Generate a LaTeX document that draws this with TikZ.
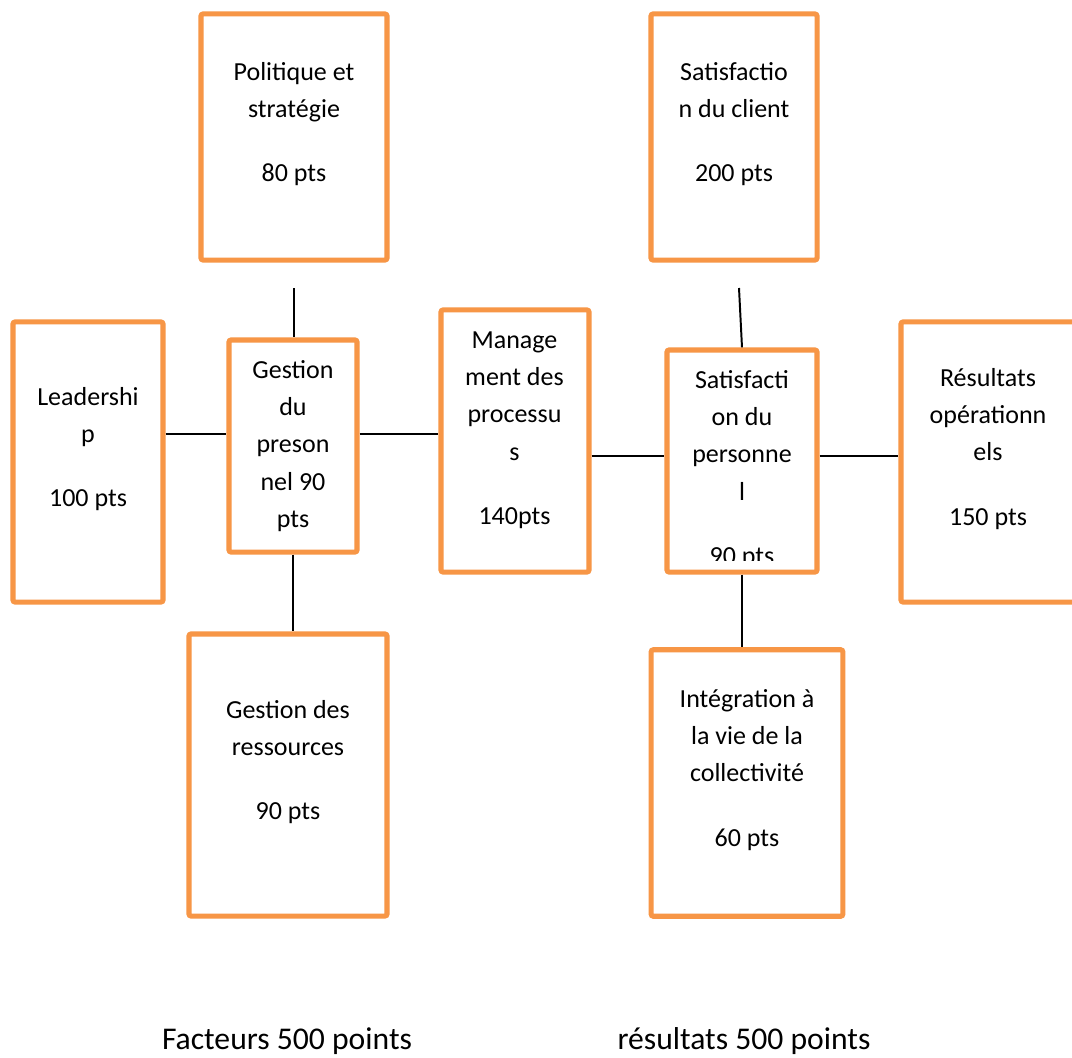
\documentclass[tikz,border=0pt]{standalone}
\usepackage{fontspec}
\setmainfont{Carlito}
\definecolor{boxorange}{RGB}{247,150,70}
\newcommand{\boxfont}{\fontsize{18.5}{26.5}\selectfont}
\newcommand{\footfont}{\fontsize{22.5}{27}\selectfont}

\begin{document}
\begin{tikzpicture}[x=0.025cm, y=-0.025cm,
    box/.style={draw=boxorange, line width=3.6pt, rounded corners=1.5pt, inner sep=0pt},
    boxtext/.style={font=\boxfont, align=center, anchor=north, inner sep=0pt},
    foot/.style={font=\footfont, anchor=base, inner sep=0pt},
    link/.style={black, line width=1.4pt}]
    \clip (0,0) rectangle (1072,1058);
    \fill[white] (0,0) rectangle (1072,1058);

    \node[box, minimum width=4.65cm, minimum height=6.15cm] (pol) at (294,137) {};
    \node[box, minimum width=4.15cm, minimum height=6.15cm] (cli) at (734,137) {};
    \node[box, minimum width=3.75cm, minimum height=7cm] (lead) at (88,462) {};
    \node[box, minimum width=3.2cm, minimum height=5.3cm] (gper) at (293,446) {};
    \node[box, minimum width=3.7cm, minimum height=6.55cm] (mgt) at (515,441) {};
    \node[box, minimum width=3.75cm, minimum height=5.55cm] (sper) at (742,461) {};
    \node[box, minimum width=4.375cm, minimum height=7cm] (res) at (988.5,462) {};
    \node[box, minimum width=4.95cm, minimum height=7.05cm] (ress) at (288,775) {};
    \node[box, minimum width=4.79cm, minimum height=6.66cm] (integ) at (747,783) {};

    \node[boxtext] (poltxt) at (294,54) {\strut Politique et\\stratégie\\[19.2pt]80 pts};
    \node[boxtext] (clitxt) at (734,54) {\strut Satisfactio\\n du client\\[19.2pt]200 pts};
    \node[boxtext] (leadtxt) at (88,379) {\strut Leadershi\\p\\[19.2pt]100 pts};
    \node[boxtext] (gpertxt) at (293,352) {\strut Gestion\\du\\preson\\nel 90\\pts};
    \node[boxtext] (mgttxt) at (514.5,322) {\strut Manage\\ment des\\processu\\s\\[19.2pt]140pts};
    \begin{scope}
        \clip (667,350) rectangle (817,560);
        \node[boxtext] (spertxt) at (742,362) {\strut Satisfacti\\on du\\personne\\l\\[19.2pt]90 pts};
    \end{scope}
    \node[boxtext] (restxt) at (988,360) {\strut Résultats\\opérationn\\els\\[19.2pt]150 pts};
    \node[boxtext] (resstxt) at (288,692) {\strut Gestion des\\ressources\\[19.2pt]90 pts};
    \node[boxtext] (integtxt) at (747,681) {\strut Intégration à\\la vie de la\\collectivité\\[19.2pt]60 pts};

    \coordinate (poldown) at (294,288);
    \coordinate (clidown) at (739,288);
    \draw[link] (poldown) -- (poldown |- gper.north);
    \draw[link] (lead.east |- 0,434) -- (gper.west |- 0,434);
    \draw[link] (gper.east |- 0,434) -- (mgt.west |- 0,434);
    \draw[link] (mgt.east |- 0,456) -- (sper.west |- 0,456);
    \draw[link] (sper.east |- 0,456) -- (res.west |- 0,456);
    \draw[link] (clidown) -- (sper.north);
    \draw[link] (gper.south) -- (gper.south |- ress.north);
    \draw[link] (sper.south) -- (sper.south |- integ.north);

    \node[foot] (facteurs) at (287,1049) {Facteurs 500 points};
    \node[foot] (resultats) at (744,1049) {résultats 500 points};
\end{tikzpicture}
\end{document}
